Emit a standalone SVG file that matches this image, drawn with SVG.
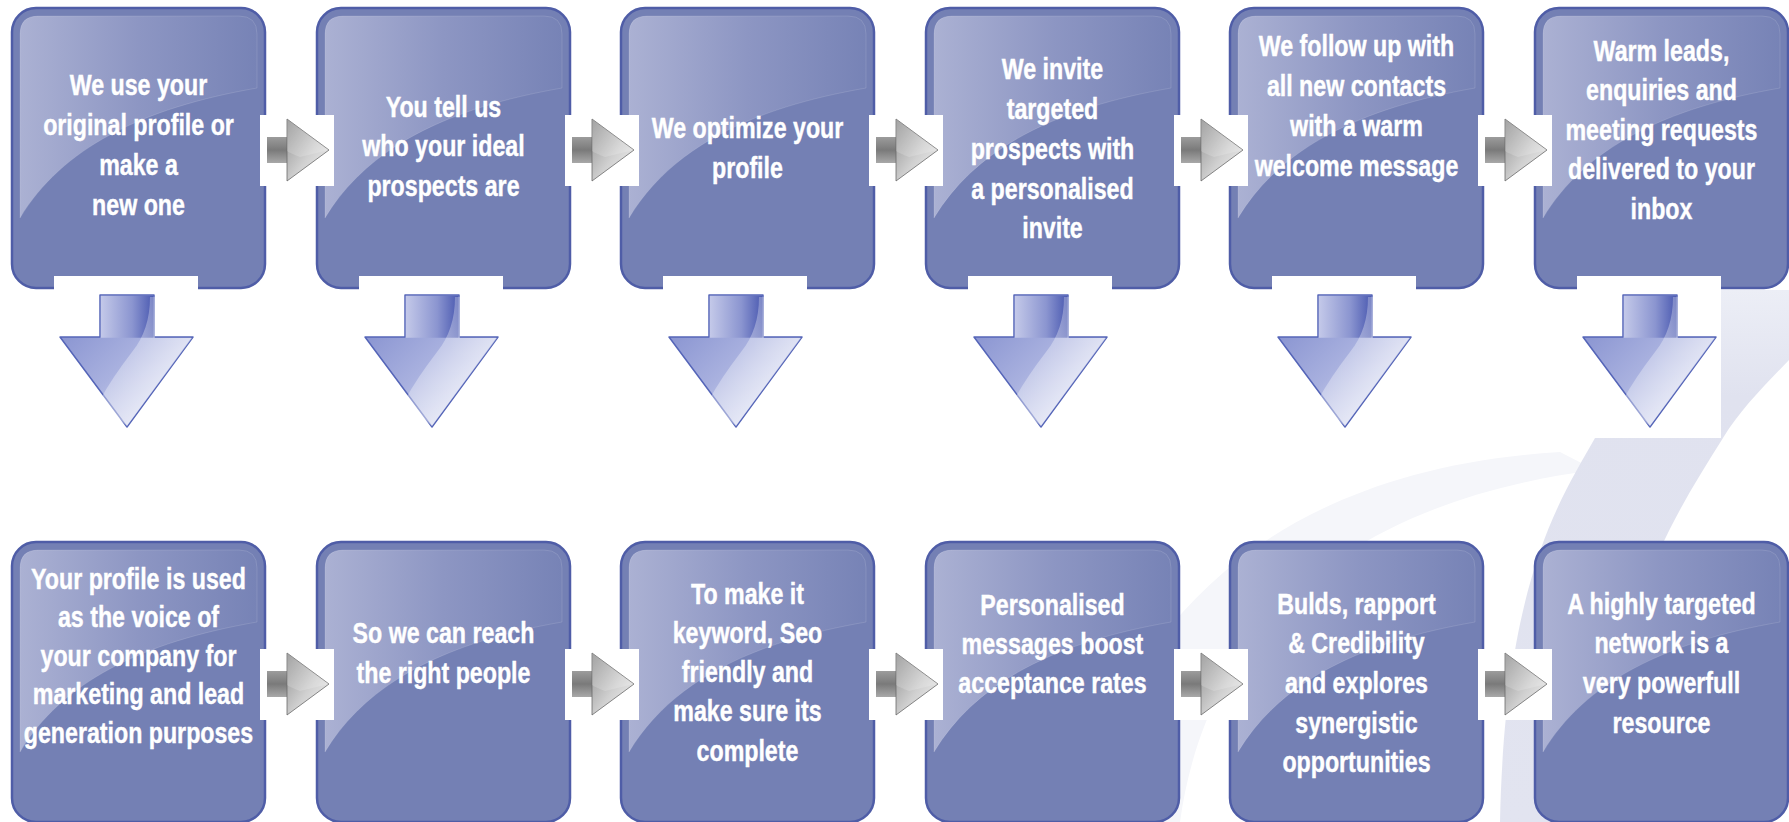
<svg xmlns="http://www.w3.org/2000/svg" xmlns:xlink="http://www.w3.org/1999/xlink" width="1789" height="822" viewBox="0 0 1789 822">
<style>
.t{font-family:'Liberation Sans',Arial,sans-serif;font-weight:bold;font-size:29px;fill:#ffffff;stroke:#ffffff;stroke-width:0.4;text-anchor:middle}
</style>
<defs>
<linearGradient id="gl" x1="0" y1="0" x2="1" y2="0">
<stop offset="0" stop-color="#abb1d3"/>
<stop offset="0.5" stop-color="#8d96c3"/>
<stop offset="1" stop-color="#7783b6"/>
</linearGradient>
<linearGradient id="rs" x1="0" y1="0" x2="0" y2="1">
<stop offset="0" stop-color="#9c9c9c"/>
<stop offset="0.5" stop-color="#7a7a7a"/>
<stop offset="1" stop-color="#a8a8a8"/>
</linearGradient>
<linearGradient id="rh" x1="0" y1="0" x2="1" y2="1">
<stop offset="0" stop-color="#8e8e8e"/>
<stop offset="0.55" stop-color="#d0d0d0"/>
<stop offset="1" stop-color="#f4f4f4"/>
</linearGradient>
<linearGradient id="dh" x1="0" y1="0" x2="1" y2="1">
<stop offset="0" stop-color="#7c88cb"/>
<stop offset="0.5" stop-color="#a9b1df"/>
<stop offset="1" stop-color="#f0f2fb"/>
</linearGradient>
<linearGradient id="ds" x1="0" y1="0" x2="1" y2="0">
<stop offset="0" stop-color="#c4c9e9"/>
<stop offset="0.6" stop-color="#8b95d0"/>
<stop offset="1" stop-color="#4b5ab1"/>
</linearGradient>
<linearGradient id="dg" x1="0" y1="0" x2="1" y2="1">
<stop offset="0" stop-color="#ffffff" stop-opacity="0.1"/>
<stop offset="1" stop-color="#ffffff" stop-opacity="0.7"/>
</linearGradient>
<linearGradient id="bd" x1="0" y1="0" x2="0" y2="1">
<stop offset="0" stop-color="#eceef6"/>
<stop offset="0.2" stop-color="#e0e2ef"/>
<stop offset="1" stop-color="#e2e4f0"/>
</linearGradient>
<g id="box">
<rect x="0" y="0" width="253" height="280" rx="24" ry="24" fill="#7480b4" stroke="#4f5da7" stroke-width="2.5"/>
<path d="M 8 210 L 8 26 Q 8 8 26 8 L 227 8 Q 245 8 245 26 L 245 80 C 130 100, 50 140, 8 210 Z" fill="url(#gl)" stroke="#ffffff" stroke-opacity="0.12" stroke-width="1"/>
</g>
<g id="rarrow">
<rect x="0" y="0" width="74" height="71" fill="#ffffff"/>
<rect x="7" y="22" width="22" height="26" fill="url(#rs)"/>
<polygon points="27,4 69,35 27,66" fill="url(#rh)" stroke="#6a6a6a" stroke-width="0.8"/>
<path d="M 27 4 L 69 35 L 40 42 Q 30 38 27 36 Z" fill="#ffffff" fill-opacity="0.18"/>
</g>
<g id="darrow">
<rect x="54" y="276" width="144" height="162" fill="#ffffff"/>
<polygon points="100,295 154,295 154,337 193,337 127,427 60,337 100,337" fill="url(#dh)" stroke="#5565b8" stroke-width="1.5" stroke-linejoin="round"/>
<rect x="100.75" y="295.75" width="52.5" height="42" fill="url(#ds)"/>
<path d="M 150 297 Q 150 330 132 352 Q 112 378 100 400 L 127 426 L 192 338 L 155 338 L 155 297 Z" fill="url(#dg)"/>
</g>
</defs>

<g id="background">
<rect x="0" y="0" width="1789" height="822" fill="#ffffff"/>
<path d="M 1085 822 C 1110 650, 1250 470, 1560 452 L 1595 470 C 1330 505, 1205 640, 1180 822 Z" fill="#f5f6fa"/>
<path d="M 1700 290 L 1789 290 L 1789 360 C 1765 385, 1740 410, 1723 438 C 1690 490, 1660 540, 1640 600 L 1600 822 L 1500 822 C 1505 580, 1560 500, 1595 438 Z" fill="url(#bd)"/>
</g>

<g id="nodes">
<g id="n1" transform="translate(12,8)"><use xlink:href="#box" href="#box"/>
<text class="t" transform="scale(0.8,1)" x="158.1"><tspan y="87">We use your</tspan><tspan x="158.1" y="127">original profile or</tspan><tspan x="158.1" y="167">make a</tspan><tspan x="158.1" y="207">new one</tspan></text></g>
<g id="n2" transform="translate(317,8)"><use xlink:href="#box" href="#box"/>
<text class="t" transform="scale(0.8,1)" x="158.1"><tspan y="109">You tell us</tspan><tspan x="158.1" y="148">who your ideal</tspan><tspan x="158.1" y="188">prospects are</tspan></text></g>
<g id="n3" transform="translate(621,8)"><use xlink:href="#box" href="#box"/>
<text class="t" transform="scale(0.8,1)" x="158.1"><tspan y="130">We optimize your</tspan><tspan x="158.1" y="170">profile</tspan></text></g>
<g id="n4" transform="translate(926,8)"><use xlink:href="#box" href="#box"/>
<text class="t" transform="scale(0.8,1)" x="158.1"><tspan y="71">We invite</tspan><tspan x="158.1" y="111">targeted</tspan><tspan x="158.1" y="151">prospects with</tspan><tspan x="158.1" y="191">a personalised</tspan><tspan x="158.1" y="230">invite</tspan></text></g>
<g id="n5" transform="translate(1230,8)"><use xlink:href="#box" href="#box"/>
<text class="t" transform="scale(0.8,1)" x="158.1"><tspan y="48">We follow up with</tspan><tspan x="158.1" y="88">all new contacts</tspan><tspan x="158.1" y="128">with a warm</tspan><tspan x="158.1" y="168">welcome message</tspan></text></g>
<g id="n6" transform="translate(1535,8)"><use xlink:href="#box" href="#box"/>
<text class="t" transform="scale(0.8,1)" x="158.1"><tspan y="53">Warm leads,</tspan><tspan x="158.1" y="92">enquiries and</tspan><tspan x="158.1" y="132">meeting requests</tspan><tspan x="158.1" y="171">delivered to your</tspan><tspan x="158.1" y="211">inbox</tspan></text></g>

<g id="n7" transform="translate(12,542)"><use xlink:href="#box" href="#box"/>
<text class="t" transform="scale(0.8,1)" x="158.1"><tspan y="47">Your profile is used</tspan><tspan x="158.1" y="85">as the voice of</tspan><tspan x="158.1" y="124">your company for</tspan><tspan x="158.1" y="162">marketing and lead</tspan><tspan x="158.1" y="201">generation purposes</tspan></text></g>
<g id="n8" transform="translate(317,542)"><use xlink:href="#box" href="#box"/>
<text class="t" transform="scale(0.8,1)" x="158.1"><tspan y="101">So we can reach</tspan><tspan x="158.1" y="141">the right people</tspan></text></g>
<g id="n9" transform="translate(621,542)"><use xlink:href="#box" href="#box"/>
<text class="t" transform="scale(0.8,1)" x="158.1"><tspan y="62">To make it</tspan><tspan x="158.1" y="101">keyword, Seo</tspan><tspan x="158.1" y="140">friendly and</tspan><tspan x="158.1" y="179">make sure its</tspan><tspan x="158.1" y="219">complete</tspan></text></g>
<g id="n10" transform="translate(926,542)"><use xlink:href="#box" href="#box"/>
<text class="t" transform="scale(0.8,1)" x="158.1"><tspan y="73">Personalised</tspan><tspan x="158.1" y="112">messages boost</tspan><tspan x="158.1" y="151">acceptance rates</tspan></text></g>
<g id="n11" transform="translate(1230,542)"><use xlink:href="#box" href="#box"/>
<text class="t" transform="scale(0.8,1)" x="158.1"><tspan y="72">Bulds, rapport</tspan><tspan x="158.1" y="111">&amp; Credibility</tspan><tspan x="158.1" y="151">and explores</tspan><tspan x="158.1" y="191">synergistic</tspan><tspan x="158.1" y="230">opportunities</tspan></text></g>
<g id="n12" transform="translate(1535,542)"><use xlink:href="#box" href="#box"/>
<text class="t" transform="scale(0.8,1)" x="158.1"><tspan y="72">A highly targeted</tspan><tspan x="158.1" y="111">network is a</tspan><tspan x="158.1" y="151">very powerfull</tspan><tspan x="158.1" y="191">resource</tspan></text></g>
</g>

<g id="connectors">
<use xlink:href="#rarrow" href="#rarrow" x="260" y="115"/>
<use xlink:href="#rarrow" href="#rarrow" x="565" y="115"/>
<use xlink:href="#rarrow" href="#rarrow" x="869" y="115"/>
<use xlink:href="#rarrow" href="#rarrow" x="1174" y="115"/>
<use xlink:href="#rarrow" href="#rarrow" x="1478" y="115"/>
<use xlink:href="#rarrow" href="#rarrow" x="260" y="649"/>
<use xlink:href="#rarrow" href="#rarrow" x="565" y="649"/>
<use xlink:href="#rarrow" href="#rarrow" x="869" y="649"/>
<use xlink:href="#rarrow" href="#rarrow" x="1174" y="649"/>
<use xlink:href="#rarrow" href="#rarrow" x="1478" y="649"/>
<use xlink:href="#darrow" href="#darrow" x="0"/>
<use xlink:href="#darrow" href="#darrow" x="305"/>
<use xlink:href="#darrow" href="#darrow" x="609"/>
<use xlink:href="#darrow" href="#darrow" x="914"/>
<use xlink:href="#darrow" href="#darrow" x="1218"/>
<use xlink:href="#darrow" href="#darrow" x="1523"/>
</g>
</svg>
